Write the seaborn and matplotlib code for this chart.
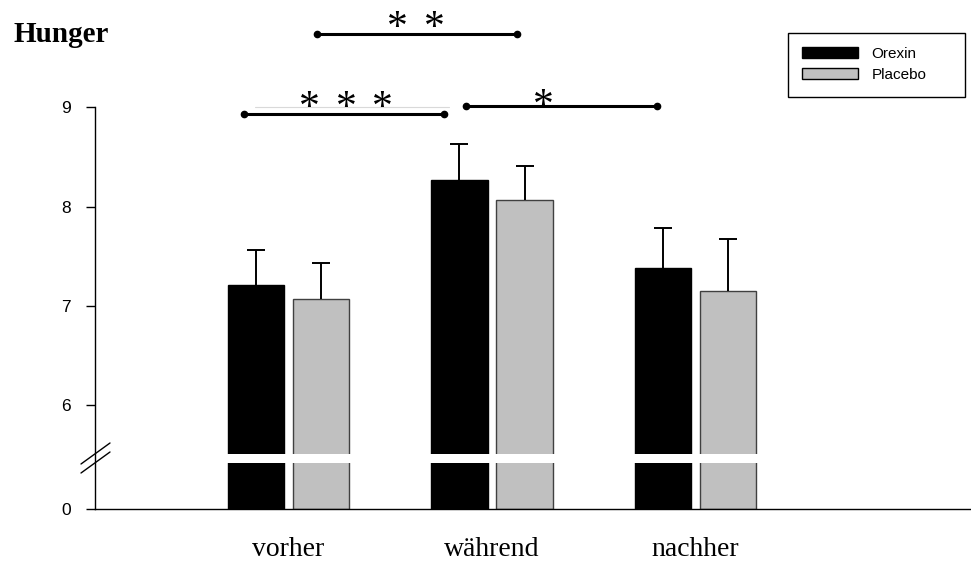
import numpy as np
import pandas as pd
import matplotlib
matplotlib.use("Agg")
import matplotlib.pyplot as plt
import seaborn as sns
from matplotlib.lines import Line2D
from matplotlib.patches import Rectangle
from matplotlib.ticker import NullLocator

# ---------------- data ----------------
phases = ["vorher", "während", "nachher"]
groups = ["Orexin", "Placebo"]
orexin_mean = [7.21, 8.27, 7.38]
placebo_mean = [7.07, 8.07, 7.15]
orexin_sem = [0.35, 0.36, 0.40]
placebo_sem = [0.36, 0.34, 0.52]
ytick_values = [0, 6, 7, 8, 9]
ytick_labels = ["0", "6", "7", "8", "9"]
title_text = "Hunger"

# significance brackets (left end, right end, height, label, star centre)
sig_left = [-0.22, 0.139, 0.871]
sig_right = [0.766, 1.124, 1.812]
sig_y = [8.93, 9.74, 9.01]
sig_labels = ["***", "**", "*"]
sig_star_x = [0.283, 0.626, 1.251]
sig_star_dy = [-3.5, -3.5, -7.5]   # points, baseline offset of the asterisks

df = pd.DataFrame({
    "phase": phases * 2,
    "group": [groups[0]] * 3 + [groups[1]] * 3,
    "value": orexin_mean + placebo_mean,
})

sns.set_style("white")
plt.rcParams["font.family"] = ["Liberation Sans", "DejaVu Sans"]
plt.rcParams["text.color"] = "black"
plt.rcParams["xtick.color"] = "black"
plt.rcParams["ytick.color"] = "black"
plt.rcParams["axes.labelcolor"] = "black"

W, H = 971, 562
fig = plt.figure(figsize=(W / 100, H / 100), dpi=100)
ax = fig.add_axes([95 / W, 52.7 / H, (W - 95) / W, 499.3 / H])

sns.barplot(data=df, x="phase", y="value", hue="group", order=phases,
            hue_order=groups, palette={"Orexin": "#000000", "Placebo": "#c0c0c0"},
            errorbar=None, width=0.64, gap=0.13, saturation=1,
            linewidth=1.0, edgecolor="black", ax=ax)

conts = list(ax.containers)[:2]
for p in conts[1]:
    p.set_edgecolor("#404040")

for cont, means, sems in zip(conts, [orexin_mean, placebo_mean], [orexin_sem, placebo_sem]):
    xs = [p.get_x() + p.get_width() / 2 for p in cont]
    eb = ax.errorbar(xs, means, yerr=[np.zeros(len(means)), sems], fmt="none",
                     ecolor="black", elinewidth=1.4, capsize=6.5, capthick=1.4, zorder=3)
    # keep only the upper cap
    for cl in eb[1]:
        if np.allclose(np.asarray(cl.get_ydata(), float), np.asarray(means, float)):
            cl.set_visible(False)

# broken axis: compress 0..6 into a short segment
LOW_EQ = 4.949
def fwd(v):
    v = np.asarray(v, dtype=float)
    return np.where(v >= 6, v, LOW_EQ + v * (6 - LOW_EQ) / 6)
def inv(u):
    u = np.asarray(u, dtype=float)
    return np.where(u >= 6, u, (u - LOW_EQ) * 6 / (6 - LOW_EQ))

ax.set_yscale("function", functions=(fwd, inv))
ax.set_ylim(0, 9.98)
ax.set_xlim(-0.951, 3.354)
ax.set_yticks(ytick_values, ytick_labels)
ax.yaxis.set_minor_locator(NullLocator())
ax.set_xlabel("")
ax.set_ylabel("")

for s in ["top", "right"]:
    ax.spines[s].set_visible(False)
for s in ["left", "bottom"]:
    ax.spines[s].set_color("black")
    ax.spines[s].set_linewidth(1.0)
ax.spines["left"].set_bounds(0, 9)

ax.tick_params(axis="y", direction="out", length=6.5, width=1.0, pad=11,
               labelsize=12.5, color="black", labelcolor="black", left=True)
ax.tick_params(axis="x", length=0, pad=20, labelcolor="black")
for lbl in ax.get_xticklabels():
    lbl.set_fontfamily("Liberation Serif")
    lbl.set_fontsize(20)

# white gap across the bars at the axis break
ax.axhspan(float(inv(5.417)), float(inv(5.505)), color="white", lw=0, zorder=2.2)

# faint line at the level 9
ax.plot([-0.165, 0.789], [9, 9], color="#d9d9d9", lw=0.8, zorder=1, clip_on=False)

# significance brackets
for x1, x2, y, lab, sx, dy in zip(sig_left, sig_right, sig_y, sig_labels, sig_star_x, sig_star_dy):
    ax.plot([x1, x2], [y, y], color="black", lw=2.2, marker="o", ms=4.5,
            clip_on=False, zorder=4)
    n = len(lab)
    for i in range(n):
        ax.annotate("*", xy=(sx, y), xytext=((i - (n - 1) / 2) * 26.5, dy),
                    textcoords="offset points", ha="center", va="baseline",
                    fontsize=30, family="Liberation Serif", color="black",
                    annotation_clip=False)

# break marks on the y axis
for dy in (0, 9):
    fig.add_artist(Line2D([81 / W, 110 / W], [1 - (464 + dy) / H, 1 - (443 + dy) / H],
                          color="black", lw=1.0))

# legend
handles, labels = ax.get_legend_handles_labels()
if ax.get_legend() is not None:
    ax.get_legend().remove()
fig.legend(handles, labels, loc="upper left", bbox_to_anchor=(788 / W, 1 - 33 / H),
           frameon=False, fontsize=11, handlelength=3.7, handleheight=0.75,
           handletextpad=0.85, labelspacing=0.45, borderpad=0.9, borderaxespad=0)
fig.add_artist(Rectangle((788 / W, 1 - 97 / H), (965 - 788) / W, 64 / H,
                         transform=fig.transFigure, fill=False, edgecolor="black", lw=1.0))

fig.text(13 / W, 1 - 42 / H, title_text, fontsize=21, fontweight="bold",
         family="Liberation Serif", va="baseline", ha="left", color="black")

fig.savefig("out.png", dpi=100)
